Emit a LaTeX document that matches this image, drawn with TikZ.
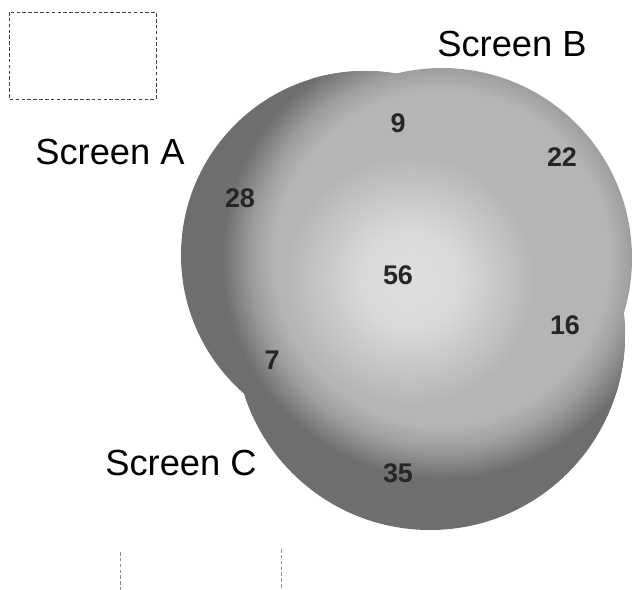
\documentclass[tikz,border=0pt]{standalone}
\usepackage{fontspec}
\setmainfont{Liberation Sans}
\pgfdeclareradialshading{bsoft}{\pgfpoint{0bp}{0bp}}{color(0bp)=(black!29); color(22bp)=(black!29); color(25bp)=(black!38); color(50bp)=(black!38)}
\pgfdeclareradialshading{ringsoft}{\pgfpoint{0bp}{0bp}}{color(0bp)=(black!38); color(21.5bp)=(black!38); color(25bp)=(black!57); color(50bp)=(black!57)}
\pgfdeclareradialshading{coresoft}{\pgfpoint{0bp}{0bp}}{color(0bp)=(black!13); color(10bp)=(black!15); color(25bp)=(black!29); color(50bp)=(black!29)}
\begin{document}
\begin{tikzpicture}[x=0.03cm,y=-0.03cm,
  setlabel/.style={font=\fontsize{31}{31}\selectfont, text=black, inner sep=0pt},
  countlabel/.style={font=\fontsize{23}{23}\selectfont\bfseries, text=black!85, inner sep=0pt},
  frameline/.style={black!75, densely dashed, line width=0.6pt},
  cutline/.style={black!45, densely dashed, line width=0.6pt}]
\useasboundingbox (0,0) rectangle (633,590);

% circles
\coordinate (ca) at (365,255);
\coordinate (cb) at (442,258);
\coordinate (cc) at (430,335);
\coordinate (core) at (410,280);

% union of Screen A and Screen C
\fill[black!57] (ca) circle[radius=184] (cc) circle[radius=195];
\begin{scope}
  \clip (ca) circle[radius=184] (cc) circle[radius=195];
  \shade[shading=ringsoft] (cb) circle[radius=221];
\end{scope}
% Screen B
\shade[shading=bsoft] (cb) circle[radius=190];
\shade[shading=coresoft] (core) circle[radius=125];

% frame fragments
\draw[frameline] (9,12) rectangle (156,99);
\coordinate (l1a) at (120,552);
\coordinate (l1b) at (120,590);
\coordinate (l2a) at (281,549);
\coordinate (l2b) at (281,590);
\draw[cutline] (l1a) -- (l1b);
\draw[cutline] (l2a) -- (l2b);

% set labels
\node[setlabel] (sa) at (110,152) {Screen A};
\node[setlabel] (sb) at (512,44) {Screen B};
\node[setlabel] (sc) at (181,463) {Screen C};

% counts
\node[countlabel] (n9)  at (398,123) {9};
\node[countlabel] (n22) at (562,157) {22};
\node[countlabel] (n28) at (240,198) {28};
\node[countlabel] (n56) at (398,275) {56};
\node[countlabel] (n16) at (565,325) {16};
\node[countlabel] (n7)  at (272,360) {7};
\node[countlabel] (n35) at (398,473) {35};
\end{tikzpicture}
\end{document}
